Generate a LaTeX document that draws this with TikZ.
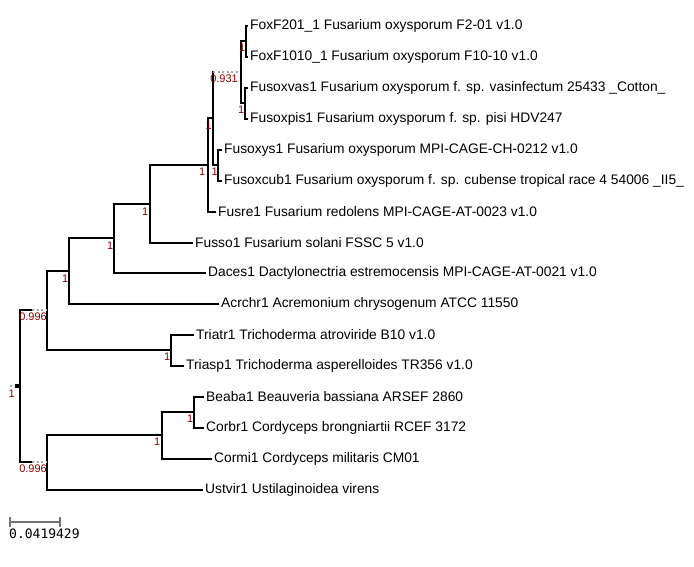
\documentclass[tikz,border=0pt]{standalone}
\usepackage{fontspec}
\newfontfamily\leaffam{Liberation Sans}
\newfontfamily\scalefam{DejaVu Sans Mono}
\definecolor{bsred}{RGB}{139,0,0}
\tikzset{
  br/.style={line width=2.6pt, black, line cap=rect},
  dotbr/.style={line width=1.6pt, black!35, dash pattern=on 2pt off 2.5pt},
  leaf/.style={anchor=west, inner xsep=3pt, inner ysep=0pt, font=\leaffam\fontsize{13.8}{16}\selectfont},
  bs/.style={anchor=north east, inner sep=0pt, font=\leaffam\fontsize{11}{12}\selectfont, text=bsred},
  scalebar/.style={line width=2pt, black!55},
}
\begin{document}
\begin{tikzpicture}[x=1pt,y=-1pt]
\useasboundingbox (0,0) rectangle (694,566);
\fill[white] (0,0) rectangle (694,566);
% leaves
\node[leaf] (l1)  at (247,26)  {FoxF201\_1 Fusarium oxysporum F2-01 v1.0};
\node[leaf] (l2)  at (247,57)  {FoxF1010\_1 Fusarium oxysporum F10-10 v1.0};
\node[leaf] (l3)  at (247,88)  {Fusoxvas1 Fusarium oxysporum f. sp. vasinfectum 25433 \_Cotton\_};
\node[leaf] (l4)  at (247,119) {Fusoxpis1 Fusarium oxysporum f. sp. pisi HDV247};
\node[leaf] (l5)  at (221,150) {Fusoxys1 Fusarium oxysporum MPI-CAGE-CH-0212 v1.0};
\node[leaf] (l6)  at (221,181) {Fusoxcub1 Fusarium oxysporum f. sp. cubense tropical race 4 54006 \_II5\_};
\node[leaf] (l7)  at (215,212) {Fusre1 Fusarium redolens MPI-CAGE-AT-0023 v1.0};
\node[leaf] (l8)  at (192,243) {Fusso1 Fusarium solani FSSC 5 v1.0};
\node[leaf] (l9)  at (205,273) {Daces1 Dactylonectria estremocensis MPI-CAGE-AT-0021 v1.0};
\node[leaf] (l10) at (218,304) {Acrchr1 Acremonium chrysogenum ATCC 11550};
\node[leaf] (l11) at (193,335) {Triatr1 Trichoderma atroviride B10 v1.0};
\node[leaf] (l12) at (183,366) {Triasp1 Trichoderma asperelloides TR356 v1.0};
\node[leaf] (l13) at (203,397) {Beaba1 Beauveria bassiana ARSEF 2860};
\node[leaf] (l14) at (203,428) {Corbr1 Cordyceps brongniartii RCEF 3172};
\node[leaf] (l15) at (211,459) {Cormi1 Cordyceps militaris CM01};
\node[leaf] (l16) at (202,490) {Ustvir1 Ustilaginoidea virens};
% internal nodes
\coordinate (A) at (246,41);
\coordinate (B) at (245,103);
\coordinate (C) at (241,72);
\coordinate (E) at (218,165);
\coordinate (D) at (213,118);
\coordinate (F) at (208,165);
\coordinate (G) at (150,204);
\coordinate (H) at (114,238);
\coordinate (I) at (69,271);
\coordinate (K) at (171,350);
\coordinate (J) at (47,310);
\coordinate (N) at (194,412);
\coordinate (M) at (162,435);
\coordinate (L) at (47,462);
\coordinate (R) at (20,386);
\coordinate (Rj) at (32,310);
\coordinate (Rl) at (32,462);
\coordinate (R0) at (10,386);
\coordinate (Dc) at (213,72);
% branches
\draw[br] (A) |- (l1.west);
\draw[br] (A) |- (l2.west);
\draw[br] (B) |- (l3.west);
\draw[br] (B) |- (l4.west);
\draw[br] (C) |- (A);
\draw[br] (C) |- (B);
\draw[br] (D) -- (Dc);
\draw[dotbr] (Dc) -- ([xshift=-3pt]C);
\draw[br] (D) |- (E);
\draw[br] (E) |- (l5.west);
\draw[br] (E) |- (l6.west);
\draw[br] (F) |- (D);
\draw[br] (F) |- (l7.west);
\draw[br] (G) |- (F);
\draw[br] (G) |- (l8.west);
\draw[br] (H) |- (G);
\draw[br] (H) |- (l9.west);
\draw[br] (I) |- (H);
\draw[br] (I) |- (l10.west);
\draw[br] (K) |- (l11.west);
\draw[br] (K) |- (l12.west);
\draw[br] (J) |- (I);
\draw[br] (J) |- (K);
\draw[br] (N) |- (l13.west);
\draw[br] (N) |- (l14.west);
\draw[br] (M) |- (N);
\draw[br] (M) |- (l15.west);
\draw[br] (L) |- (M);
\draw[br] (L) |- (l16.west);
\draw[br] (R) |- (Rj);
\draw[dotbr] (Rj) -- (J);
\draw[br] (R) |- (Rl);
\draw[dotbr] (Rl) -- (L);
\draw[dotbr] (R0) -- ([xshift=-5pt]R);
\fill[black] (15,384) rectangle (20,388);
% support labels
\node[bs] (bA) at ([xshift=-0.5pt,yshift=-3pt]A) {1};
\node[bs] (bB) at ([xshift=-0.5pt,yshift=-3pt]B) {1};
\node[bs] (bC) at ([xshift=-3pt,yshift=-3pt]C) {0.931};
\node[bs] (bD) at ([xshift=-1pt,yshift=-3.5pt]D) {1};
\node[bs] (bE) at ([xshift=0pt,yshift=-3pt]E) {1};
\node[bs] (bF) at ([xshift=-2.5pt,yshift=-3pt]F) {1};
\node[bs] (bG) at ([xshift=-1.5pt,yshift=-3.5pt]G) {1};
\node[bs] (bH) at ([xshift=-0.5pt,yshift=-3.5pt]H) {1};
\node[bs] (bI) at ([xshift=-0.5pt,yshift=-3.5pt]I) {1};
\node[bs] (bK) at ([xshift=-0.5pt,yshift=-3pt]K) {1};
\node[bs] (bJ) at ([xshift=0pt,yshift=-3pt]J) {0.996};
\node[bs] (bN) at ([xshift=-0.5pt,yshift=-3pt]N) {1};
\node[bs] (bM) at ([xshift=-1.5pt,yshift=-3pt]M) {1};
\node[bs] (bL) at ([xshift=0pt,yshift=-3pt]L) {0.996};
\node[bs] (bR) at ([xshift=-5pt,yshift=-4pt]R) {1};
% scale bar
\coordinate (s0) at (10,522);
\coordinate (s1) at (60,522);
\draw[scalebar] (s0) -- (s1);
\draw[scalebar] ([yshift=5pt]s0) -- ([yshift=-5pt]s0);
\draw[scalebar] ([yshift=5pt]s1) -- ([yshift=-5pt]s1);
\node[anchor=west, inner sep=0pt, font=\scalefam\fontsize{13}{15}\selectfont] (sl) at (9,534) {0.0419429};
\end{tikzpicture}
\end{document}
